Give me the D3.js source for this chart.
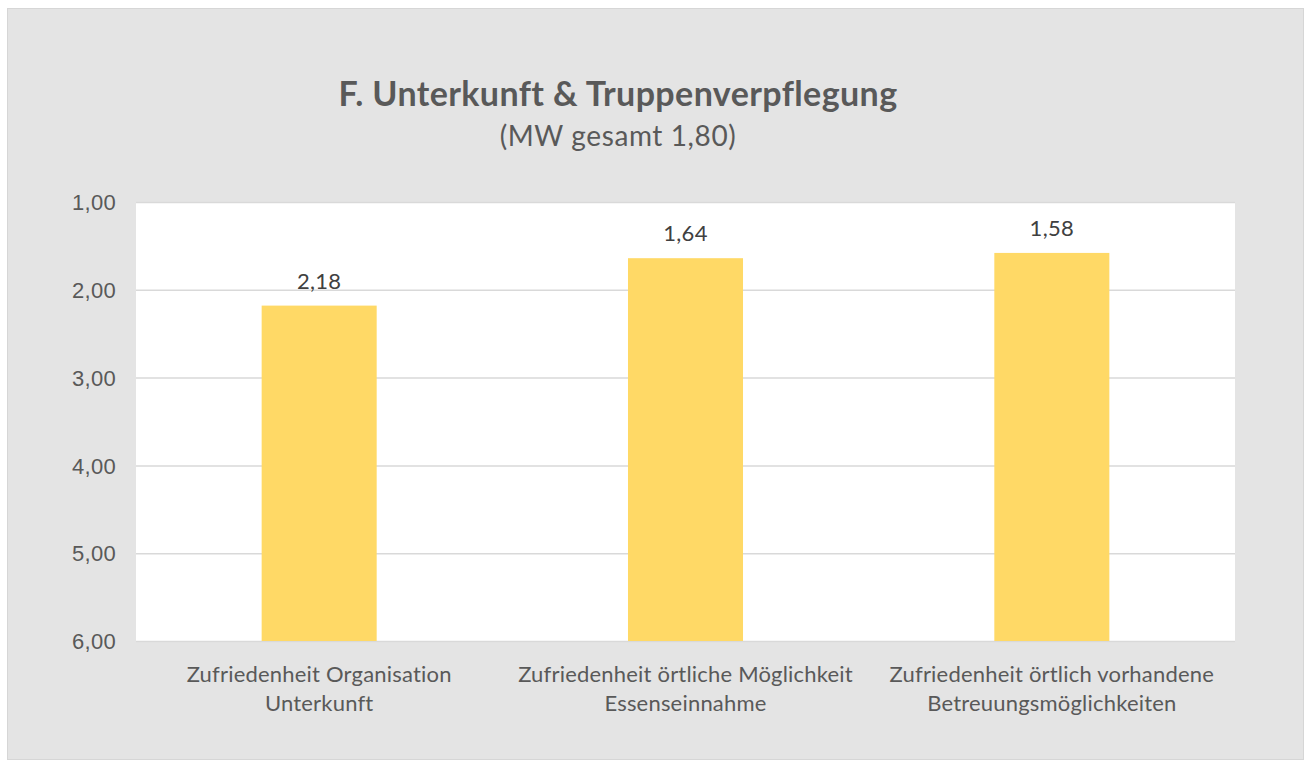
<!DOCTYPE html>
<html>
<head>
<meta charset="utf-8">
<script src="https://cdn.jsdelivr.net/npm/d3@7"></script>
<style>
  body { margin: 0; background: #fff; }
  svg { display: block; font-family: Lato, "Noto Sans", sans-serif; }
</style>
</head>
<body>
<svg class="chart"></svg>
<script>
var categories = [
    ["Zufriedenheit Organisation", "Unterkunft"],
    ["Zufriedenheit örtliche Möglichkeit", "Essenseinnahme"],
    ["Zufriedenheit örtlich vorhandene", "Betreuungsmöglichkeiten"]
];
var values = [2.18, 1.64, 1.58];
var yTicks = [1, 2, 3, 4, 5, 6];
var title = "F. Unterkunft & Truppenverpflegung";
var subtitle = "(MW gesamt 1,80)";

var W = 1309, H = 765;
var margin = { top: 202, right: 74, bottom: 124, left: 136 },
    width = W - margin.left - margin.right,
    height = H - margin.top - margin.bottom;

var svg = d3.select(".chart").attr("width", W).attr("height", H);

svg.append("rect")
    .attr("x", 7.5).attr("y", 8.5)
    .attr("width", 1296).attr("height", 751)
    .attr("fill", "#e4e4e4")
    .attr("stroke", "#d6d6d6");

var chart = svg.append("g")
    .attr("transform", "translate(" + margin.left + "," + margin.top + ")");

var x = d3.scaleBand().domain(d3.range(categories.length)).range([0, width]);
var y = d3.scaleLinear().domain([1, 6]).range([0, height]);

var fmt = function (v) { return d3.format(".2f")(v).replace(".", ","); };

chart.append("rect")
    .attr("width", width).attr("height", height)
    .attr("fill", "#ffffff");

chart.append("g")
    .attr("class", "y axis")
    .call(d3.axisLeft(y).tickValues(yTicks).tickSize(-width).tickFormat(fmt))
    .call(function (g) {
        g.select(".domain").remove();
        g.selectAll("line").attr("stroke", "#d9d9d9").attr("stroke-width", 1.5);
        g.selectAll("text")
            .attr("x", -20)
            .attr("dy", "0.35em")
            .attr("fill", "#595959")
            .style("font-size", "22px")
            .style("letter-spacing", "0.3px");
    });

var barW = x.bandwidth() * 0.314;

chart.selectAll(".bar")
    .data(values)
    .enter().append("rect")
    .attr("class", "bar")
    .attr("x", function (d, i) { return x(i) + (x.bandwidth() - barW) / 2; })
    .attr("width", barW)
    .attr("y", function (d) { return y(d); })
    .attr("height", function (d) { return y(6) - y(d); })
    .attr("fill", "#ffd966");

chart.selectAll(".label")
    .data(values)
    .enter().append("text")
    .attr("class", "label")
    .attr("x", function (d, i) { return x(i) + x.bandwidth() / 2; })
    .attr("y", function (d) { return y(d) - 17; })
    .attr("text-anchor", "middle")
    .attr("fill", "#404040")
    .style("font-size", "22px")
    .style("letter-spacing", "0.3px")
    .text(fmt);

var xl = chart.selectAll(".cat")
    .data(categories)
    .enter().append("text")
    .attr("class", "cat")
    .attr("text-anchor", "middle")
    .attr("fill", "#595959")
    .style("font-size", "22px")
    .style("letter-spacing", "0.2px")
    .attr("transform", function (d, i) {
        return "translate(" + (x(i) + x.bandwidth() / 2) + "," + (height + 41) + ")";
    });
xl.selectAll("tspan")
    .data(function (d) { return d; })
    .enter().append("tspan")
    .attr("x", 0)
    .attr("dy", function (d, i) { return i ? 29 : 0; })
    .text(function (d) { return d; });

svg.append("text")
    .attr("x", 618).attr("y", 106)
    .attr("text-anchor", "middle")
    .attr("fill", "#595959")
    .style("font-size", "34px")
    .style("font-weight", "bold")
    .style("letter-spacing", "0.4px")
    .text(title);

svg.append("text")
    .attr("x", 618).attr("y", 146)
    .attr("text-anchor", "middle")
    .attr("fill", "#595959")
    .style("font-size", "28px")
    .style("letter-spacing", "0.6px")
    .text(subtitle);
</script>
</body>
</html>
